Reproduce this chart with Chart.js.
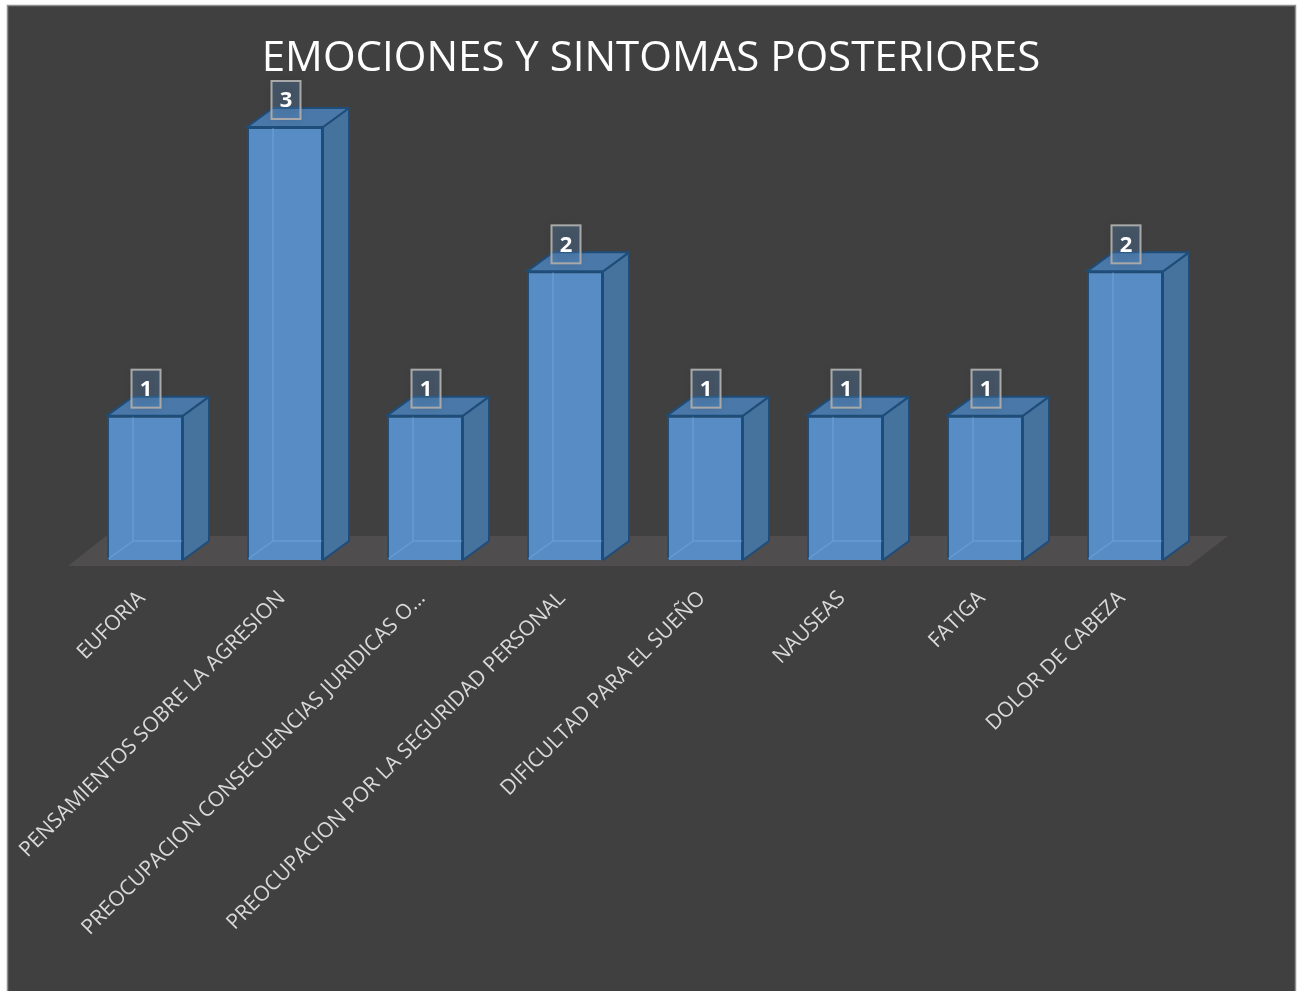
<!DOCTYPE html>
<html>
<head>
<meta charset="utf-8">
<script src="https://cdn.jsdelivr.net/npm/chart.js@4/dist/chart.umd.min.js"></script>
<style>
  html, body { margin: 0; padding: 0; background: #ffffff; }
  canvas { display: block; }
</style>
</head>
<body>
<canvas id="c" width="1304" height="991"></canvas>
<script>
const chartTitle = 'EMOCIONES Y SINTOMAS POSTERIORES';
const categories = [
  'EUFORIA',
  'PENSAMIENTOS SOBRE LA AGRESION',
  'PREOCUPACION CONSECUENCIAS JURIDICAS O...',
  'PREOCUPACION POR LA SEGURIDAD PERSONAL',
  'DIFICULTAD PARA EL SUEÑO',
  'NAUSEAS',
  'FATIGA',
  'DOLOR DE CABEZA'
];
const values = [1, 3, 1, 2, 1, 1, 1, 2];

const COLORS = {
  page: '#ffffff',
  bg: '#404040',
  frame: '#8f8f8f',
  floor: '#4f4d4d',
  front: '#588cc4',
  side: '#46729e',
  top: '#4a78a8',
  edge: '#1f4d7a',
  hidden: 'rgba(120,175,230,0.45)',
  label: '#d9d9d9',
  title: '#ffffff'
};
const DEPTH_X = 26, DEPTH_Y = 19;

const backgroundPlugin = {
  id: 'bgFrame',
  beforeDraw(chart) {
    const ctx = chart.ctx;
    ctx.save();
    ctx.fillStyle = COLORS.page;
    ctx.fillRect(0, 0, chart.width, chart.height);
    ctx.fillStyle = COLORS.bg;
    ctx.fillRect(7, 5, 1289, 990);
    ctx.strokeStyle = COLORS.frame;
    ctx.lineWidth = 1.5;
    ctx.strokeRect(7.5, 5.5, 1288, 990);
    // chart title
    ctx.fillStyle = COLORS.title;
    ctx.font = '42px "Open Sans"';
    ctx.textAlign = 'center';
    ctx.textBaseline = 'alphabetic';
    ctx.fillText(chartTitle, 651, 71);
    ctx.restore();
  }
};

const floorPlugin = {
  id: 'floor3d',
  beforeDatasetsDraw(chart) {
    const a = chart.chartArea;
    const ctx = chart.ctx;
    ctx.save();
    ctx.fillStyle = COLORS.floor;
    ctx.beginPath();
    ctx.moveTo(a.left - 7, a.bottom + 6);
    ctx.lineTo(a.left + 31, a.bottom - 24);
    ctx.lineTo(a.right + 33, a.bottom - 24);
    ctx.lineTo(a.right - 6, a.bottom + 6);
    ctx.closePath();
    ctx.fill();
    ctx.restore();
  }
};

const barsPlugin = {
  id: 'bars3d',
  afterDatasetsDraw(chart) {
    const ctx = chart.ctx;
    const meta = chart.getDatasetMeta(0);
    meta.data.forEach((el, i) => {
      const p = el.getProps(['x', 'y', 'base', 'width'], true);
      const l = p.x - p.width / 2, r = p.x + p.width / 2, t = p.y, b = p.base;
      ctx.save();
      ctx.strokeStyle = COLORS.hidden;
      ctx.lineWidth = 1.5;
      ctx.beginPath();
      ctx.moveTo(l + DEPTH_X, t + 1);
      ctx.lineTo(l + DEPTH_X, b - DEPTH_Y);
      ctx.lineTo(r - 1, b - DEPTH_Y);
      ctx.moveTo(l + 1, b - 1);
      ctx.lineTo(l + DEPTH_X, b - DEPTH_Y);
      ctx.stroke();

      ctx.lineJoin = 'round';
      ctx.lineWidth = 2;
      ctx.strokeStyle = COLORS.edge;
      ctx.fillStyle = COLORS.side;
      ctx.beginPath();
      ctx.moveTo(r, t);
      ctx.lineTo(r + DEPTH_X, t - DEPTH_Y);
      ctx.lineTo(r + DEPTH_X, b - DEPTH_Y);
      ctx.lineTo(r, b);
      ctx.closePath();
      ctx.fill();
      ctx.stroke();
      ctx.fillStyle = COLORS.top;
      ctx.beginPath();
      ctx.moveTo(l, t);
      ctx.lineTo(l + DEPTH_X, t - DEPTH_Y);
      ctx.lineTo(r + DEPTH_X, t - DEPTH_Y);
      ctx.lineTo(r, t);
      ctx.closePath();
      ctx.fill();
      ctx.stroke();
      ctx.restore();
    });
    meta.data.forEach((el, i) => {
      const p = el.getProps(['x', 'y'], true);
      const cx = p.x + 1, cy = p.y - 27, w = 29, h = 38;
      ctx.save();
      ctx.shadowColor = 'rgba(0,0,0,0.35)';
      ctx.shadowBlur = 10;
      ctx.fillStyle = 'rgba(91,142,197,0.3)';
      ctx.fillRect(cx - w / 2, cy - h / 2, w, h);
      ctx.shadowColor = 'transparent';
      ctx.strokeStyle = '#a9a9a9';
      ctx.lineWidth = 2;
      ctx.strokeRect(cx - w / 2, cy - h / 2, w, h);
      ctx.fillStyle = '#ffffff';
      ctx.font = 'bold 22px "Open Sans"';
      ctx.textAlign = 'center';
      ctx.textBaseline = 'middle';
      ctx.fillText(String(values[i]), cx, cy + 1);
      ctx.restore();
    });
  }
};

function build() {
  new Chart(document.getElementById('c'), {
    type: 'bar',
    data: {
      labels: categories,
      datasets: [{
        data: values,
        backgroundColor: COLORS.front,
        borderColor: COLORS.edge,
        borderWidth: 2,
        barPercentage: 0.543,
        categoryPercentage: 1
      }]
    },
    options: {
      responsive: false,
      animation: false,
      devicePixelRatio: 1,
      layout: { padding: { left: 75, right: 109, top: 127, bottom: 0 } },
      plugins: {
        legend: { display: false },
        tooltip: { enabled: false },
        title: { display: false }
      },
      scales: {
        x: {
          grid: { display: false, drawTicks: false },
          border: { display: false },
          ticks: {
            color: COLORS.label,
            font: { family: 'Open Sans', size: 21 },
            minRotation: 45,
            maxRotation: 45,
            autoSkip: false,
            padding: 26,
            labelOffset: -3
          },
          afterFit(s) { s.height = 431; s.paddingLeft = 0; s.paddingRight = 0; }
        },
        y: { display: false, min: 0, max: 3 }
      }
    },
    plugins: [backgroundPlugin, floorPlugin, barsPlugin]
  });
}

Promise.all([
  document.fonts.load('21px "Open Sans"'),
  document.fonts.load('bold 22px "Open Sans"'),
  document.fonts.load('42px "Open Sans"')
]).then(build, build);
</script>
</body>
</html>
